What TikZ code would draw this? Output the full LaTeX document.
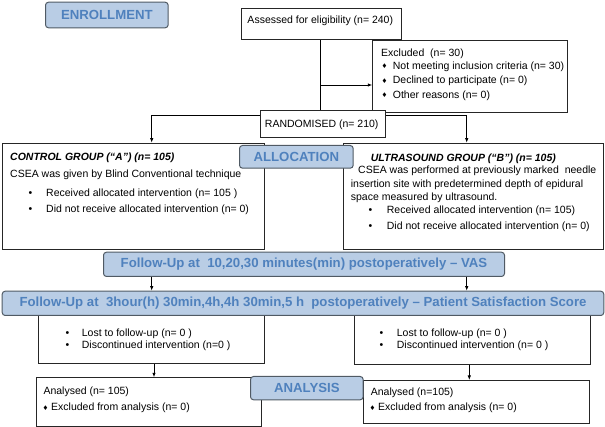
\documentclass[tikz,border=0pt]{standalone}
\usepackage{fontspec}
\setmainfont{Liberation Sans}
\newfontfamily\dvfont{DejaVu Sans}
\usetikzlibrary{arrows.meta}
\definecolor{lblfill}{HTML}{B9CDE5}
\definecolor{lbltext}{HTML}{4F81BD}
\definecolor{lbldraw}{HTML}{505A64}
\newcommand\dmd{{\dvfont\fontsize{6.5}{7}\selectfont ♦}}
\tikzset{
 box/.style={draw=black!85, line width=0.8pt, fill=white, inner sep=0pt, anchor=north west},
 lbl/.style={draw=lbldraw, fill=lblfill, rounded corners=3pt, line width=1pt, inner sep=0pt,
   anchor=north west, font=\fontsize{13.2}{15}\selectfont\bfseries, text=lbltext},
 txt/.style={font=\fontsize{10.5}{12}\selectfont, inner sep=0pt, anchor=base west},
 hdr/.style={txt, font=\fontsize{10.5}{12}\selectfont\bfseries\itshape},
 bul/.style={font=\fontsize{10.5}{12}\selectfont, inner sep=0pt, anchor=base west},
 dia/.style={inner sep=0pt, anchor=base west},
 arr/.style={-{Latex[length=4.5pt,width=3.5pt]}, line width=0.8pt},
 ln/.style={line width=0.8pt},
}
\begin{document}
\begin{tikzpicture}[x=1pt,y=-1pt]
\useasboundingbox (0,0) rectangle (605,427);
\coordinate (ca) at (151.7,142.7);
\coordinate (cb) at (466.7,142.7);
\coordinate (dl) at (154,0);
\coordinate (dr) at (469.3,0);

% enrollment
\node[lbl, minimum width=122.7pt, minimum height=25.6pt] (enroll) at (45,1.7) {ENROLLMENT};
\node[box, minimum width=159.7pt, minimum height=31.6pt] (assess) at (241,7.7) {};
\node[txt, anchor=base] (assesst) at (320.3,23.3) {Assessed for eligibility (n= 240)};
\node[box, minimum width=195pt, minimum height=71.7pt] (excl) at (372.3,40) {};
\node[txt] (ex0) at (381,56.5) {Excluded~ (n= 30)};
\node[dia] (exd1) at (381.5,68.6) {\dmd};
\node[dia] (exd2) at (381.5,83.3) {\dmd};
\node[dia] (exd3) at (381.5,97.6) {\dmd};
\node[txt] (ex1) at (392.7,69.1) {Not meeting inclusion criteria (n= 30)};
\node[txt] (ex2) at (392.7,83.8) {Declined to participate (n= 0)};
\node[txt] (ex3) at (392.7,98.1) {Other reasons (n= 0)};

\draw[ln] (assess.south -| 320.7,0) -- (320.7,110);
\draw[arr] (320.7,85) -- (excl.west |- 0,85);
\draw[ln] (151.7,115.5) -- (466.7,115.5);

% randomised
\node[box, minimum width=125pt, minimum height=27pt] (rand) at (260,110) {};
\node[txt, anchor=base] (randt) at (321.7,127.1) {RANDOMISED (n= 210)};
\draw[arr] ([yshift=8pt]rand.west) -| (ca);
\draw[arr] ([yshift=8pt]rand.east) -| (cb);

% allocation
\node[box, minimum width=262.3pt, minimum height=106.6pt] (ctrl) at (1.7,142.7) {};
\node[box, minimum width=260.6pt, minimum height=106.6pt] (us) at (342.7,142.7) {};
\node[lbl, minimum width=113.7pt, minimum height=22.7pt] (alloc) at (239,145) {ALLOCATION};

\node[hdr] (c1) at (10,160.8) {CONTROL GROUP (“A”) (n= 105)};
\node[txt] (c2) at (10,177.8) {CSEA was given by Blind Conventional technique};
\node[bul] (cb1) at (28.5,196.5) {•};
\node[bul] (cb2) at (28.5,212.5) {•};
\node[txt] (c3) at (46,196.5) {Received allocated intervention (n= 105 )};
\node[txt] (c4) at (46,212.5) {Did not receive allocated intervention (n= 0)};

\node[hdr] (u1) at (370.7,161.1) {ULTRASOUND GROUP (“B”) (n= 105)};
\node[txt] (u2) at (358,173.8) {CSEA was performed at previously marked~ needle};
\node[txt] (u3) at (350.7,187.1) {insertion site with predetermined depth of epidural};
\node[txt] (u4) at (350.7,200.5) {space measured by ultrasound.};
\node[bul] (ub1) at (368.5,213.8) {•};
\node[bul] (ub2) at (368.5,229.8) {•};
\node[txt] (u5) at (386.7,213.8) {Received allocated intervention (n= 105)};
\node[txt] (u6) at (386.7,229.8) {Did not receive allocated intervention (n= 0)};

% follow-up
\node[lbl, minimum width=401pt, minimum height=24.3pt] (vas) at (103,251.7)
  {Follow-Up at~ 10,20,30 minutes(min) postoperatively – VAS};
\node[box, minimum width=226.3pt, minimum height=48.3pt] (lostL) at (37.7,315) {};
\node[box, minimum width=236pt, minimum height=49pt] (lostR) at (354,315) {};
\node[lbl, minimum width=601.6pt, minimum height=24.3pt] (pss) at (1.7,290.7)
  {Follow-Up at~ 3hour(h) 30min,4h,4h 30min,5 h~ postoperatively – Patient Satisfaction Score};
\draw[arr] (vas.south -| ca) -- (pss.north -| ca);
\draw[arr] (vas.south -| cb) -- (pss.north -| cb);

\node[bul] (lb1) at (65.5,336.5) {•};
\node[bul] (lb2) at (65.5,348.1) {•};
\node[txt] (l1) at (81.7,336.5) {Lost to follow-up (n= 0 )};
\node[txt] (l2) at (81.7,348.1) {Discontinued intervention (n=0 )};
\node[bul] (rb1) at (379.5,336.5) {•};
\node[bul] (rb2) at (379.5,348.1) {•};
\node[txt] (r1) at (396.7,336.5) {Lost to follow-up (n= 0 )};
\node[txt] (r2) at (396.7,348.1) {Discontinued intervention (n= 0 )};

% analysis
\node[box, minimum width=225pt, minimum height=48.4pt] (anaL) at (36,377.3) {};
\node[box, minimum width=226pt, minimum height=43.3pt] (anaR) at (363.3,380) {};
\draw[arr] (lostL.south -| dl) -- (anaL.north -| dl);
\draw[arr] (lostR.south -| dr) -- (anaR.north -| dr);
\node[txt] (a1) at (43.3,394.5) {Analysed (n= 105)};
\node[dia] (ad1) at (42.5,410) {\dmd};
\node[txt] (a2) at (51,410.5) {Excluded from analysis (n= 0)};
\node[txt] (b1) at (370.7,395.5) {Analysed (n=105)};
\node[dia] (bd1) at (369.5,410) {\dmd};
\node[txt] (b2) at (378,410.5) {Excluded from analysis (n= 0)};
\node[lbl, minimum width=112.7pt, minimum height=23.3pt] (analysis) at (250,376) {ANALYSIS};
\end{tikzpicture}
\end{document}
